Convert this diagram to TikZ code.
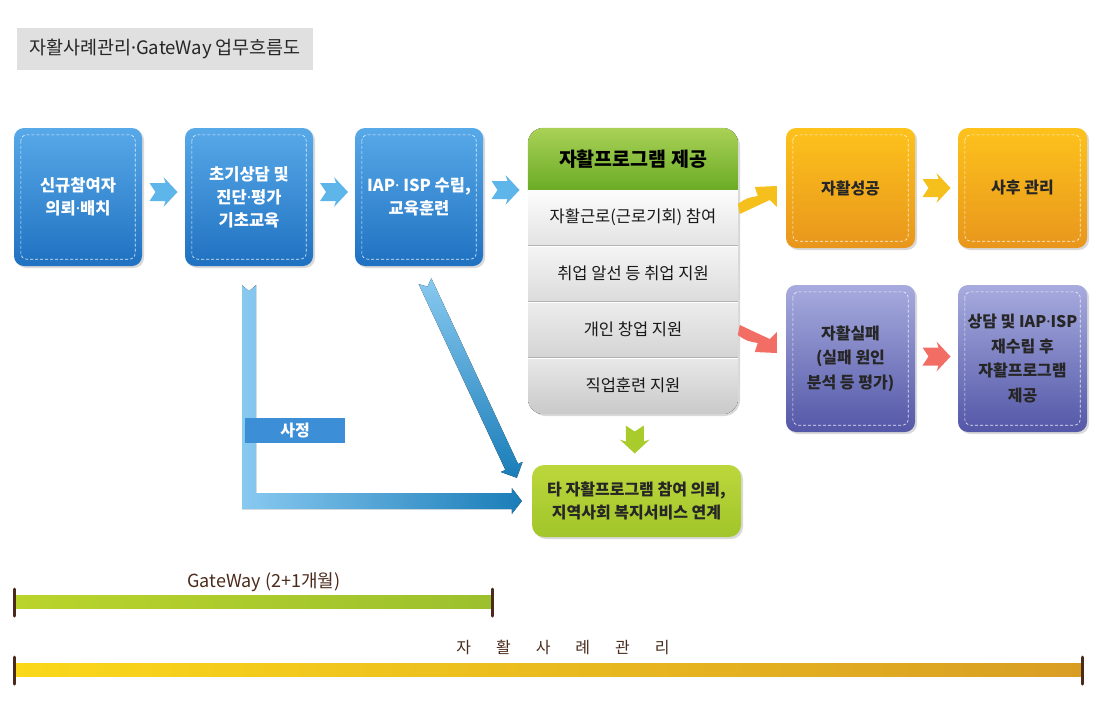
\documentclass[tikz,border=0pt]{standalone}
\usepackage{fontspec}
\setmainfont{Noto Sans CJK KR}
\newfontfamily\latin{Noto Sans}
\usetikzlibrary{shadows,calc}
\definecolor{blueT}{HTML}{58A9E8}
\definecolor{blueB}{HTML}{1F71C1}
\definecolor{orangeT}{HTML}{FDC21C}
\definecolor{orangeB}{HTML}{E8961C}
\definecolor{purpleT}{HTML}{A7ABDE}
\definecolor{purpleB}{HTML}{5357A7}
\definecolor{headT}{HTML}{A9D156}
\definecolor{headB}{HTML}{6BAC26}
\definecolor{referT}{HTML}{BCD73C}
\definecolor{referB}{HTML}{A1C52A}
\definecolor{chevblue}{HTML}{5EB5EA}
\definecolor{chevyellow}{HTML}{F5C01C}
\definecolor{chevred}{HTML}{F26E64}
\definecolor{chevgreen}{HTML}{A9CB2B}
\definecolor{Llight}{HTML}{88C9F0}
\definecolor{Ldark}{HTML}{1A7DB8}
\definecolor{gwL}{HTML}{BAD42B}
\definecolor{gwR}{HTML}{9CC02E}
\definecolor{cmL}{HTML}{FBD81A}
\definecolor{cmR}{HTML}{D89E24}
\definecolor{tickbrown}{HTML}{4A2B1B}
\definecolor{labelblue}{HTML}{3C8ED6}
\newcommand{\fsz}[2]{\fontsize{#1pt}{#2pt}\selectfont}
\newcommand{\md}{{\latin ·}}
\newcommand{\chev}[3]{\fill[#2,shift={(#1)},rotate=#3](-14pt,-9pt)--(2pt,-9pt)--(0pt,-15pt)--(14pt,0pt)--(0pt,15pt)--(2pt,9pt)--(-14pt,9pt)--(-8pt,0pt)--cycle;}
\newcommand{\swoosh}[3]{\fill[#2,shift={(#1)},yscale=#3](-39pt,-18pt)..controls(-30pt,-12pt)..(-19pt,-10pt)--(-22pt,-1pt)--(0pt,0pt)--(0pt,-21pt)--(-7pt,-14pt)..controls(-20pt,-20pt)..(-37pt,-28pt)--cycle;}
\tikzset{
  flow/.style={rounded corners=10pt,inner sep=0pt,align=center,drop shadow={opacity=.3,shadow xshift=2pt,shadow yshift=-2pt}},
  bluebox/.style={flow,top color=blueT,bottom color=blueB,text=white,font=\fsz{16.5}{23}\bfseries,minimum width=128pt,minimum height=138pt},
  orangebox/.style={flow,top color=orangeT,bottom color=orangeB,text=black!85,font=\fsz{16}{24}\bfseries,minimum width=129pt,minimum height=120pt},
  purplebox/.style={flow,top color=purpleT,bottom color=purpleB,text=black!85,font=\fsz{16}{24.5}\bfseries,minimum width=129pt,minimum height=147pt},
  innerdash/.style={white,dash pattern=on 3pt off 2pt,rounded corners=6pt,opacity=.85,line width=.6pt},
  rowtext/.style={font=\fsz{16.5}{18},text=black!90},
  tick/.style={tickbrown,line width=3pt,line cap=round},
}
\begin{document}
\begin{tikzpicture}[x=1pt,y=-1pt]
\useasboundingbox (0,0) rectangle (1100,723);
% title
\node[fill=black!12,minimum width=296pt,minimum height=42pt,font=\fsz{18.5}{20},text=black!85] (title) at (165,49) {자활사례관리\md GateWay 업무흐름도};
% flow boxes
\node[bluebox] (b1) at (78,197) {신규참여자\\의뢰\md 배치};
\node[bluebox] (b2) at (249,197) {초기상담 및\\진단\md 평가\\기초교육};
\node[bluebox] (b3) at (419,197) {IAP\md\ ISP 수립,\\교육훈련};
\node[orangebox] (ok) at (850.5,188) {자활성공};
\node[orangebox] (after) at (1022.5,188) {사후 관리};
\node[purplebox] (fail) at (850.5,358.5) {자활실패\\(실패 원인\\분석 등 평가)};
\node[purplebox] (retry) at (1022.5,358.5) {상담 및 IAP\md ISP\\재수립 후\\자활프로그램\\제공};
\foreach \n in {b1,b2,b3,ok,after,fail,retry}
\draw[innerdash]([xshift=7pt,yshift=-7pt]\n.north west)rectangle([xshift=-7pt,yshift=7pt]\n.south east);
% program list
\node[flow,rounded corners=16pt,fill=black!15,minimum width=210pt,minimum height=286pt] (prog) at (633,271) {};
\begin{scope}
\clip[rounded corners=16pt](prog.north west)rectangle(prog.south east);
\fill[top color=headT,bottom color=headB](prog.north west)rectangle(738,190);
\foreach \ya/\yb/\ca/\cb in {190/245.5/1/11,245.5/301.5/4/14,301.5/357.5/7/17,357.5/414/9/21}
\fill[top color=black!\ca,bottom color=black!\cb](528,\ya)rectangle(738,\yb);
\end{scope}
\foreach \y in {245.5,301.5,357.5}{
\draw[black!30,line width=1pt](528,\y)--(738,\y);
\draw[white,line width=.8pt](528,\y+1.2)--(738,\y+1.2);}
\node[font=\fsz{19.5}{20}\bfseries] (head) at (633,159) {자활프로그램 제공};
\foreach \t [count=\i] in {자활근로(근로기회) 참여,취업 알선 등 취업 지원,개인 창업 지원,직업훈련 지원}
\node[rowtext] (r\i) at (633,161.5+56*\i) {\t};
% referral box
\node[flow,rounded corners=12pt,top color=referT,bottom color=referB,minimum width=209pt,minimum height=72pt,font=\fsz{16}{23}\bfseries,text=black!85] (refer) at (636.5,501) {타 자활프로그램 참여 의뢰,\\지역사회 복지서비스 연계};
% chevrons
\coordinate (c1) at ($(b1.east)!.5!(b2.west)+(0,-5)$);
\coordinate (c2) at ($(b2.east)!.5!(b3.west)+(0,-5)$);
\coordinate (c3) at ($(b3.east)!.5!(b3.east-|prog.west)+(0,-7)$);
\coordinate (c4) at ($(ok.east)!.5!(after.west)$);
\coordinate (c5) at ($(fail.east)!.5!(retry.west)+(0,-2)$);
\coordinate (c6) at ($(prog.south)!.5!(refer.north)$);
\chev{c1}{chevblue}{0}
\chev{c2}{chevblue}{0}
\chev{c3}{chevblue}{0}
\chev{c4}{chevyellow}{0}
\chev{c5}{chevred}{0}
\chev{c6}{chevgreen}{-90}
\coordinate (s1) at ([xshift=-9pt,yshift=2pt]ok.west);
\coordinate (s2) at ([xshift=-9pt,yshift=5.5pt]fail.west);
\swoosh{s1}{chevyellow}{1}
\swoosh{s2}{chevred}{-1}
% gateway arrows
\coordinate (gtop) at ([yshift=-19pt]b2.south);
\coordinate (gend) at ([xshift=-10pt]refer.west);
\coordinate (gbend) at (gtop|-gend);
\fill[left color=Llight,middle color=Llight!75!Ldark,right color=Ldark]([xshift=-7pt]gtop)--([yshift=-6pt]gtop)--([xshift=7pt]gtop)
--([xshift=7pt,yshift=8pt]gbend)--([xshift=-10pt,yshift=8pt]gend)--([xshift=-10pt,yshift=13pt]gend)--(gend)
--([xshift=-10pt,yshift=-13pt]gend)--([xshift=-10pt,yshift=-8pt]gend)--([xshift=-7pt,yshift=-8pt]gbend)--cycle;
\coordinate (dtop) at ([xshift=6pt,yshift=-15pt]b3.south);
\coordinate (dend) at ([xshift=-15pt,yshift=-13pt]refer.north west);
\coordinate (dhead) at ($(dend)!12pt!(dtop)$);
\fill[top color=Llight,bottom color=Ldark]($(dtop)!7pt!90:(dend)$)--($(dtop)!6pt!(dend)$)--($(dtop)!7pt!-90:(dend)$)
--($(dhead)!7pt!-90:(dend)$)--($(dhead)!12pt!-90:(dend)$)--(dend)--($(dhead)!12pt!90:(dend)$)--($(dhead)!7pt!90:(dend)$)--cycle;
\node[fill=labelblue,text=white,font=\fsz{16}{18}\bfseries,minimum width=100pt,minimum height=25pt,inner sep=0pt] (assess) at (295,430.5) {사정};
% time lines
\coordinate (gw0) at (14,602);
\coordinate (gw1) at (492,602);
\coordinate (cm0) at (14,670);
\coordinate (cm1) at (1082,670);
\fill[left color=gwL,right color=gwR]([yshift=6.5pt]gw0)rectangle([yshift=-6.5pt]gw1);
\fill[left color=cmL,right color=cmR]([yshift=6.5pt]cm0)rectangle([yshift=-6.5pt]cm1);
\foreach \p in {gw0,gw1,cm0,cm1}
\draw[tick]([yshift=13pt]\p)--([yshift=-14pt]\p);
\node[font=\fsz{18}{18},text=tickbrown] (gwtext) at (264,582) {GateWay (2+1개월)};
\node[font=\fsz{16}{18},text=tickbrown] (cmtext) at (563,647) {자\hspace{25pt}활\hspace{25pt}사\hspace{25pt}례\hspace{25pt}관\hspace{25pt}리};
\end{tikzpicture}
\end{document}
